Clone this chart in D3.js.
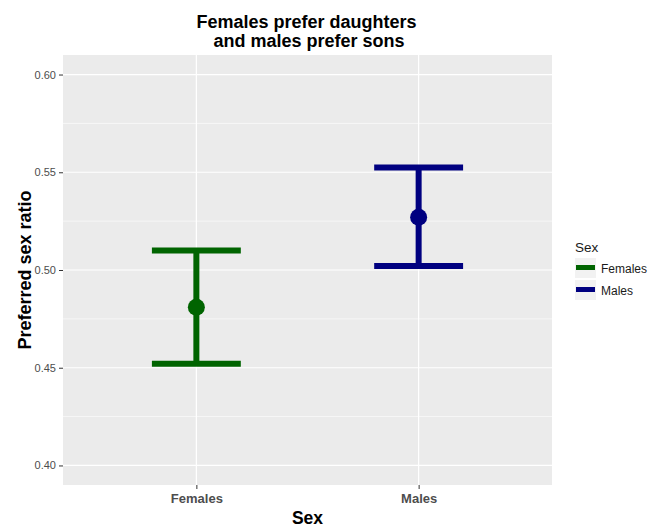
<!DOCTYPE html>
<html>
<head>
<meta charset="utf-8">
<script src="https://cdn.jsdelivr.net/npm/d3@7"></script>
<style>
  html, body { margin: 0; padding: 0; background: #fff; }
  svg { display: block; font-family: "Liberation Sans", Arial, sans-serif; }
</style>
</head>
<body>
<svg id="chart" width="648" height="527"></svg>
<script>
// Preferred sex ratio by respondent sex: mean with confidence interval
const categories = ["Females", "Males"];
const means = [0.481, 0.527];
const lower = [0.452, 0.502];
const upper = [0.510, 0.5525];
const colors = ["#006400", "#000080"];
const yTicks = [0.40, 0.45, 0.50, 0.55, 0.60];
const yMinorTicks = [0.425, 0.475, 0.525, 0.575];
const titleLines = ["Females prefer daughters", " and males prefer sons"];

const svg = d3.select("#chart");
const panel = { left: 63, right: 552, top: 55, bottom: 485 };

// Discrete x axis with 0.6 units of padding on either side
const x = d3.scaleLinear()
  .domain([1 - 0.6, categories.length + 0.6])
  .range([panel.left, panel.right]);
const xPos = c => x(categories.indexOf(c) + 1);

const y = d3.scaleLinear()
  .domain([0.39, 0.61])
  .range([panel.bottom, panel.top]);

// Panel background
svg.append("rect")
  .attr("x", panel.left).attr("y", panel.top)
  .attr("width", panel.right - panel.left)
  .attr("height", panel.bottom - panel.top)
  .attr("fill", "#ebebeb");

// Grid lines
const grid = svg.append("g");
grid.selectAll(".minor").data(yMinorTicks).join("line")
  .attr("x1", panel.left).attr("x2", panel.right)
  .attr("y1", d => y(d)).attr("y2", d => y(d))
  .attr("stroke", "#fff").attr("stroke-width", 0.6);
grid.selectAll(".major").data(yTicks).join("line")
  .attr("x1", panel.left).attr("x2", panel.right)
  .attr("y1", d => y(d)).attr("y2", d => y(d))
  .attr("stroke", "#fff").attr("stroke-width", 1.2);
grid.selectAll(".vmajor").data(categories).join("line")
  .attr("x1", d => xPos(d)).attr("x2", d => xPos(d))
  .attr("y1", panel.top).attr("y2", panel.bottom)
  .attr("stroke", "#fff").attr("stroke-width", 1.2);

// Y axis
const yAxis = svg.append("g")
  .attr("transform", `translate(${panel.left},0)`)
  .call(d3.axisLeft(y).tickValues(yTicks).tickFormat(d3.format(".2f"))
    .tickSize(4).tickPadding(3));
yAxis.select(".domain").remove();
yAxis.selectAll(".tick line").attr("stroke", "#333").attr("stroke-width", 1);
yAxis.selectAll(".tick text")
  .attr("fill", "#4d4d4d")
  .style("font-size", "11px")
  .style("font-family", "'Liberation Sans', Arial, sans-serif");

// X axis
const xAxis = svg.append("g")
  .attr("transform", `translate(0,${panel.bottom})`)
  .call(d3.axisBottom(x).tickValues(categories.map((c, i) => i + 1))
    .tickFormat((d, i) => categories[i]).tickSize(4).tickPadding(5));
xAxis.select(".domain").remove();
xAxis.selectAll(".tick line").attr("stroke", "#333").attr("stroke-width", 1);
xAxis.selectAll(".tick text")
  .attr("fill", "#4d4d4d")
  .style("font-size", "13px")
  .style("font-weight", "bold")
  .style("font-family", "'Liberation Sans', Arial, sans-serif");

// Error bars and means
const halfWidth = (x(1.2) - x(0.8)) / 2;
const groups = svg.append("g").selectAll("g")
  .data(categories).join("g")
  .attr("stroke", (d, i) => colors[i])
  .attr("fill", (d, i) => colors[i]);

groups.append("line")
  .attr("x1", d => xPos(d)).attr("x2", d => xPos(d))
  .attr("y1", (d, i) => y(upper[i])).attr("y2", (d, i) => y(lower[i]))
  .attr("stroke-width", 6);
groups.append("line")
  .attr("x1", d => xPos(d) - halfWidth).attr("x2", d => xPos(d) + halfWidth)
  .attr("y1", (d, i) => y(upper[i])).attr("y2", (d, i) => y(upper[i]))
  .attr("stroke-width", 6);
groups.append("line")
  .attr("x1", d => xPos(d) - halfWidth).attr("x2", d => xPos(d) + halfWidth)
  .attr("y1", (d, i) => y(lower[i])).attr("y2", (d, i) => y(lower[i]))
  .attr("stroke-width", 6);
groups.append("circle")
  .attr("cx", d => xPos(d)).attr("cy", (d, i) => y(means[i]))
  .attr("r", 8.5).attr("stroke", "none");

// Title
const title = svg.append("text")
  .attr("text-anchor", "middle")
  .style("font-size", "18px").style("font-weight", "bold")
  .style("white-space", "pre")
  .attr("fill", "#000");
titleLines.forEach((t, i) => {
  title.append("tspan")
    .attr("x", (panel.left + panel.right) / 2 - 1)
    .attr("y", 28 + i * 19)
    .text(t);
});

// Axis titles
svg.append("text")
  .attr("x", (panel.left + panel.right) / 2)
  .attr("y", 524)
  .attr("text-anchor", "middle")
  .style("font-size", "17.5px").style("font-weight", "bold")
  .text("Sex");
svg.append("text")
  .attr("transform", `translate(31,${(panel.top + panel.bottom) / 2}) rotate(-90)`)
  .attr("text-anchor", "middle")
  .style("font-size", "18px").style("font-weight", "bold")
  .text("Preferred sex ratio");

// Legend
const legend = svg.append("g").attr("transform", "translate(575,0)");
legend.append("text")
  .attr("x", 0).attr("y", 252)
  .style("font-size", "13.5px").attr("fill", "#1a1a1a")
  .text("Sex");
const keys = legend.selectAll(".key").data(categories).join("g")
  .attr("transform", (d, i) => `translate(0,${258 + i * 22})`);
keys.append("rect")
  .attr("width", 21).attr("height", 20)
  .attr("fill", "#f2f2f2");
keys.append("line")
  .attr("x1", 1).attr("x2", 20)
  .attr("y1", 9.5).attr("y2", 9.5)
  .attr("stroke", (d, i) => colors[i]).attr("stroke-width", 5);
keys.append("text")
  .attr("x", 26).attr("y", 14.5)
  .style("font-size", "12px").attr("fill", "#1a1a1a")
  .text(d => d);
</script>
</body>
</html>
